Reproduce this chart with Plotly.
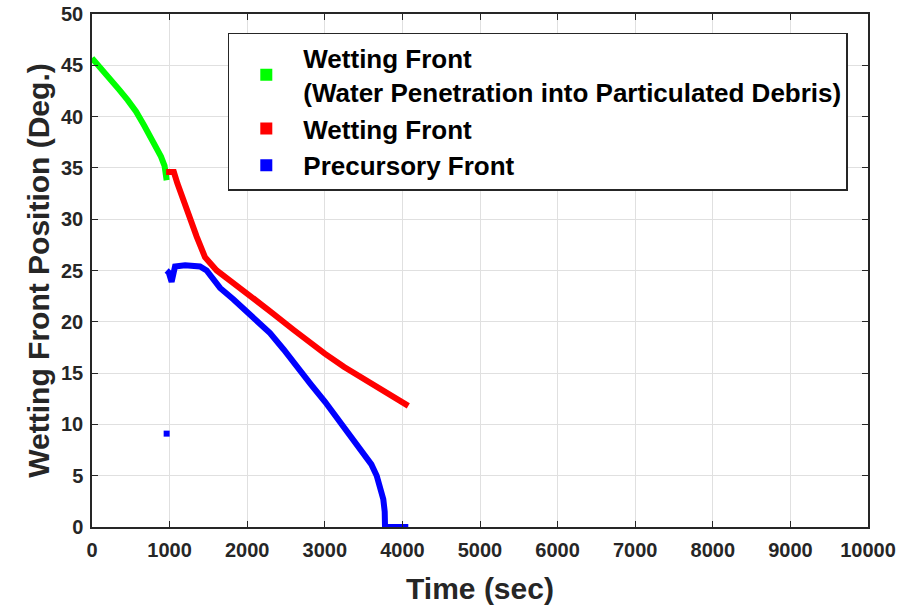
import plotly.graph_objects as go

# ---- data ----
green_t = [0, 120, 240, 352, 460, 567, 674, 782, 889, 935, 962]
green_y = [45.7, 44.7, 43.6, 42.6, 41.6, 40.5, 39.1, 37.7, 36.1, 35.2, 33.8]

red_t = [955, 1055, 1100, 1200, 1349, 1456, 1607, 1800, 2000, 2300, 2600, 2800, 3000, 3250, 3500, 3800, 4000, 4076]
red_y = [34.6, 34.6, 33.5, 31.3, 28.3, 26.3, 25.0, 23.9, 22.8, 21.0, 19.2, 18.0, 16.9, 15.6, 14.4, 13.0, 12.1, 11.8]

blue_t = [962, 990, 1026, 1070, 1200, 1392, 1477, 1650, 1821, 2000, 2150, 2294, 2470, 2638, 2820, 3003,
          3140, 3282, 3390, 3497, 3600, 3669, 3720, 3754, 3772, 3776, 4076]
blue_y = [25.0, 24.8, 23.9, 25.4, 25.5, 25.4, 25.0, 23.3, 22.2, 21.0, 20.0, 18.9, 17.3, 15.6, 13.9, 12.2,
          10.8, 9.45, 8.4, 7.3, 6.1, 5.0, 3.8, 2.7, 1.5, 0.0, 0.0]

blue_pt_t = [962]
blue_pt_y = [9.1]

x_ticks = [0, 1000, 2000, 3000, 4000, 5000, 6000, 7000, 8000, 9000, 10000]
y_ticks = [0, 5, 10, 15, 20, 25, 30, 35, 40, 45, 50]

legend_names = ["Wetting Front<br>(Water Penetration into Particulated Debris)",
                "Wetting Front", "Precursory Front"]
colors = ["#00ff00", "#ff0000", "#0000ff"]

AX = "#262626"
FONT = "Liberation Sans, Arial, sans-serif"

fig = go.Figure()
for t, y, c in [(green_t, green_y, colors[0]), (red_t, red_y, colors[1]), (blue_t, blue_y, colors[2])]:
    fig.add_trace(go.Scatter(x=t, y=y, mode="lines", line=dict(color=c, width=6),
                             showlegend=False, hoverinfo="skip"))
fig.add_trace(go.Scatter(x=blue_pt_t, y=blue_pt_y, mode="markers",
                         marker=dict(symbol="square", color=colors[2], size=6, line=dict(width=0)),
                         showlegend=False))
for name, c in zip(legend_names, colors):
    fig.add_trace(go.Scatter(x=[None], y=[None], mode="markers", name=name,
                             marker=dict(symbol="square", color=c, size=4, line=dict(width=0))))

axis_common = dict(
    showline=True, linecolor=AX, linewidth=1.5, mirror="ticks",
    ticks="inside", ticklen=6, tickcolor=AX, tickwidth=1.2,
    showgrid=True, gridcolor="#e0e0e0", gridwidth=1,
    zeroline=False,
    tickfont=dict(family=FONT, size=20, color=AX, weight="bold"),
)

fig.update_xaxes(range=[0, 10000], tickvals=x_ticks, ticktext=[str(v) for v in x_ticks],
                 ticklabelstandoff=4,
                 title=dict(text="Time (sec)", font=dict(family=FONT, size=30, color=AX, weight="bold"),
                            standoff=18),
                 **axis_common)
fig.update_yaxes(range=[0, 50], tickvals=y_ticks, ticktext=[str(v) for v in y_ticks],
                 ticklabelstandoff=3,
                 title=dict(text="Wetting Front Position (Deg.)",
                            font=dict(family=FONT, size=30, color=AX, weight="bold"), standoff=3),
                 **axis_common)

fig.update_layout(
    width=902, height=606,
    margin=dict(l=92, r=34, t=14, b=79, autoexpand=False),
    plot_bgcolor="white", paper_bgcolor="white",
    showlegend=True,
    legend=dict(x=0.175, y=0.963, xanchor="left", yanchor="top",
                bgcolor="white", bordercolor=AX, borderwidth=1.5,
                font=dict(family=FONT, size=26, color="black", weight="bold"),
                itemwidth=64, itemsizing="constant"),
)

fig.write_html("out.html")
